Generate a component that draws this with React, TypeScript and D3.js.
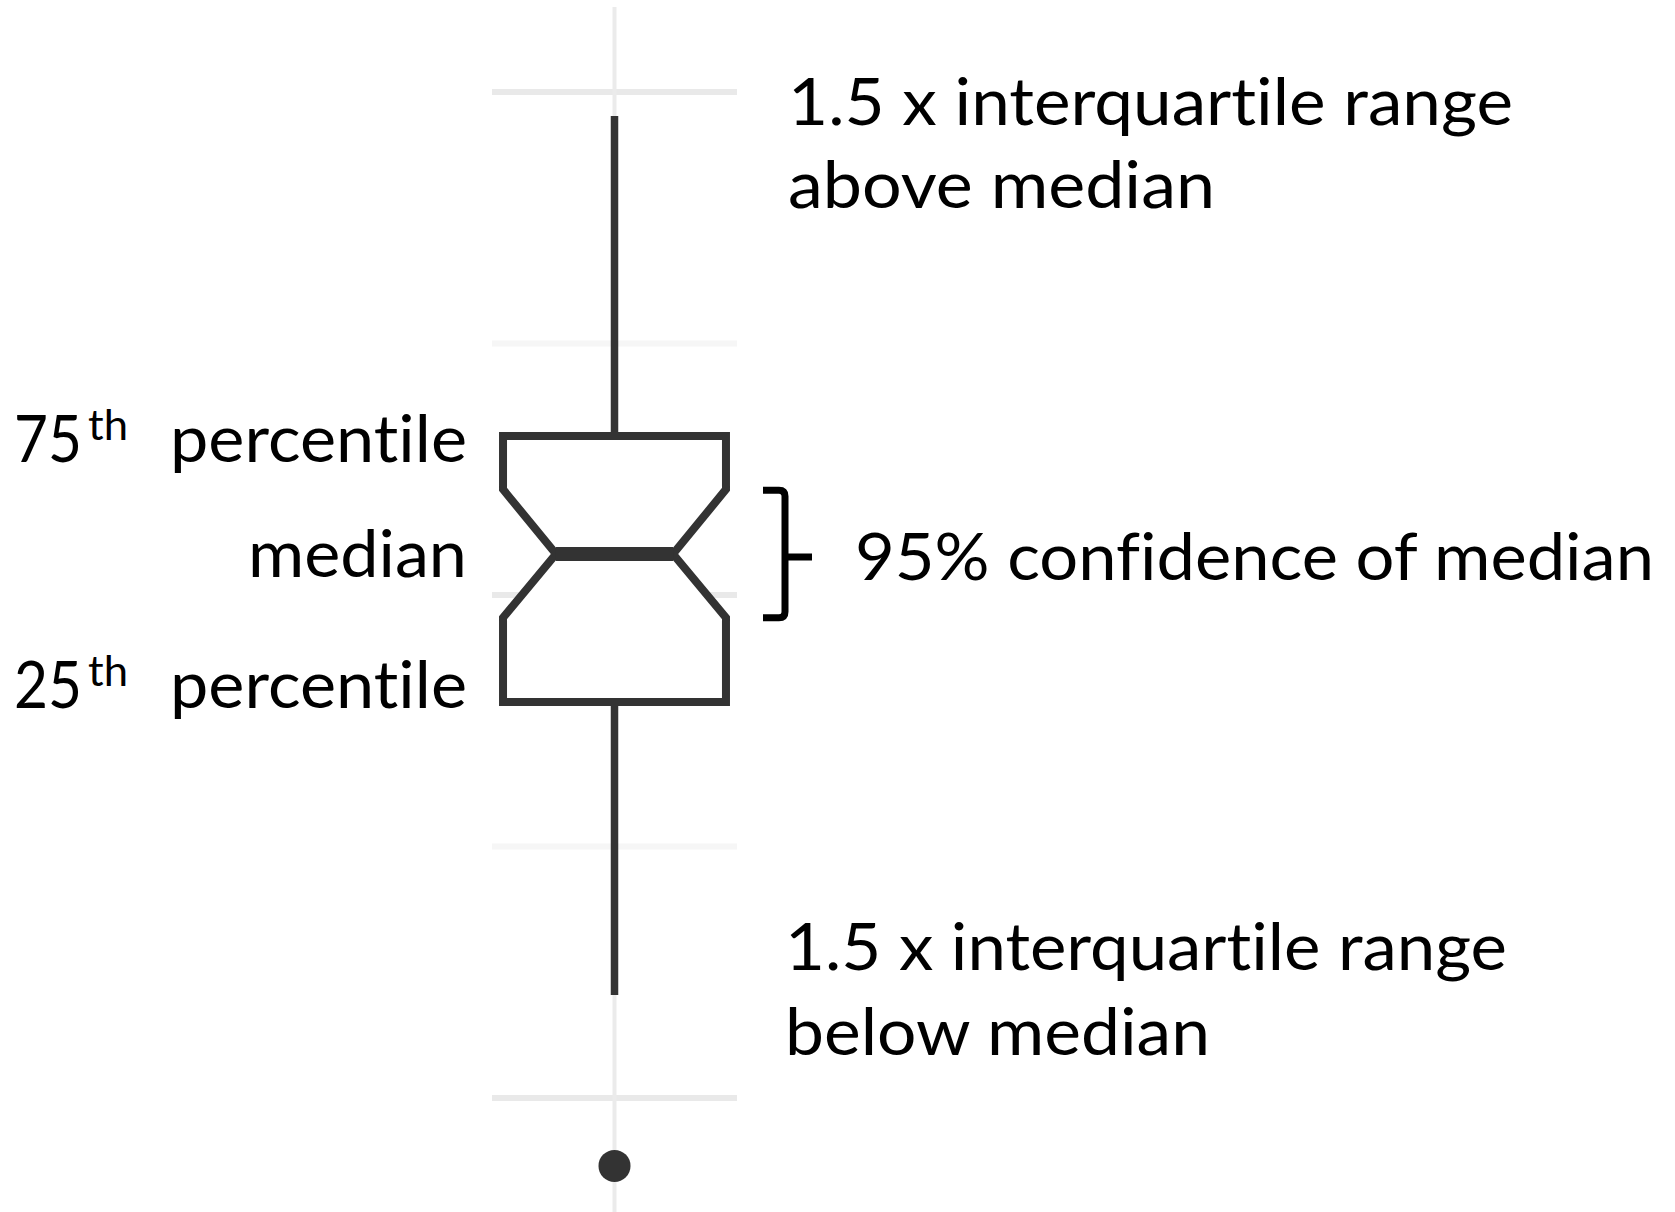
import React, { useEffect, useRef } from "react";
import * as d3 from "d3";

// one sample, drawn as a notched box
const categories = ["sample"];
const gridValues = [0, 10, 20, 30, 40];
const majorGrid = [0, 20, 40];
const statKeys = ["lowerWhisker", "q1", "notchLow", "median", "notchHigh", "q3", "upperWhisker"];
const statValues = [4.1, 15.75, 19.1, 21.63, 24.2, 26.32, 39.05];
const outlierValues = [-2.7];

const upperNote = ["1.5 x interquartile range", "above median"];
const lowerNote = ["1.5 x interquartile range", "below median"];
const ciNote = "95% confidence of median";

const width = 1675;
const height = 1212;

const App = () => {
  const ref = useRef<SVGSVGElement>(null);

  function drawBox() {
    const svg = d3.select(ref.current);
    svg.selectAll("*").remove();

    const y = d3.scaleLinear().domain([0, 40]).range([1098, 92]);
    const x = d3.scaleBand().domain(categories).range([492, 737]);
    const cx = (x(categories[0]) as number) + x.bandwidth() / 2;
    const s: any = {};
    statKeys.forEach((k, i) => (s[k] = statValues[i]));
    const half = x.bandwidth() * 0.455;
    const notchHalf = half * 0.525;

    // grid
    svg
      .append("g")
      .selectAll("line")
      .data(gridValues)
      .join("line")
      .attr("x1", x.range()[0])
      .attr("x2", x.range()[1])
      .attr("y1", (d) => y(d))
      .attr("y2", (d) => y(d))
      .attr("stroke", (d) => (majorGrid.includes(d) ? "#e9e9e9" : "#f6f6f6"))
      .attr("stroke-width", 6);

    svg
      .append("line")
      .attr("x1", cx)
      .attr("x2", cx)
      .attr("y1", 7)
      .attr("y2", height)
      .attr("stroke", "#ebebeb")
      .attr("stroke-width", 4);

    const g = svg.append("g").attr("stroke", "#333333");

    // whiskers
    g.append("line")
      .attr("x1", cx)
      .attr("x2", cx)
      .attr("y1", y(s.q3))
      .attr("y2", y(s.upperWhisker))
      .attr("stroke-width", 7.5);
    g.append("line")
      .attr("x1", cx)
      .attr("x2", cx)
      .attr("y1", y(s.q1))
      .attr("y2", y(s.lowerWhisker))
      .attr("stroke-width", 7.5);

    const l = cx - half;
    const r = cx + half;
    const pts: [number, number][] = [
      [l, y(s.q3)],
      [r, y(s.q3)],
      [r, y(s.notchHigh)],
      [cx + notchHalf, y(s.median)],
      [r, y(s.notchLow)],
      [r, y(s.q1)],
      [l, y(s.q1)],
      [l, y(s.notchLow)],
      [cx - notchHalf, y(s.median)],
      [l, y(s.notchHigh)],
    ];
    g.append("path")
      .attr("d", d3.line()(pts) + "Z")
      .attr("fill", "#fff")
      .attr("stroke-width", 8)
      .attr("stroke-linejoin", "miter");

    g.append("line")
      .attr("x1", cx - notchHalf)
      .attr("x2", cx + notchHalf)
      .attr("y1", y(s.median))
      .attr("y2", y(s.median))
      .attr("stroke-width", 14);

    svg
      .append("g")
      .selectAll("circle")
      .data(outlierValues)
      .join("circle")
      .attr("cx", cx)
      .attr("cy", (d) => y(d))
      .attr("r", 16)
      .attr("fill", "#333333");

    // bracket for the notch
    const top = y(s.notchHigh) + 1;
    const bot = y(s.notchLow);
    const mid = y(s.median) + 3;
    const p = d3.path();
    p.moveTo(763, top);
    p.lineTo(779, top);
    p.quadraticCurveTo(785, top, 785, top + 6);
    p.lineTo(785, bot - 6);
    p.quadraticCurveTo(785, bot, 779, bot);
    p.lineTo(763, bot);
    p.moveTo(785, mid);
    p.lineTo(812, mid);
    svg
      .append("path")
      .attr("d", p.toString())
      .attr("fill", "none")
      .attr("stroke", "#000")
      .attr("stroke-width", 7)
      .attr("stroke-linecap", "butt");

    // labels
    const t = svg
      .append("g")
      .attr("font-family", "Lato, 'Open Sans', sans-serif")
      .attr("font-size", 66)
      .attr("fill", "#000")
      .style("font-variant-ligatures", "none")
      .style("font-feature-settings", "'liga' 0");

    const addText = (str: string, tx: number, ty: number, len: number, anchor = "start") =>
      t.append("text")
        .attr("x", tx)
        .attr("y", ty)
        .attr("text-anchor", anchor)
        .attr("textLength", len)
        .attr("lengthAdjust", "spacingAndGlyphs")
        .text(str);

    addText(upperNote[0], 788, 125, 725);
    addText(upperNote[1], 788, 208, 427);
    addText(lowerNote[0], 785, 970, 722);
    addText(lowerNote[1], 785, 1055, 425);
    addText(ciNote, 855, 580, 799);

    const leftLabel = (num: string, ty: number) => {
      addText(num, 14, ty, 68);
      t.append("text")
        .attr("x", 88)
        .attr("y", ty - 22)
        .attr("font-size", 42)
        .attr("textLength", 40)
        .attr("lengthAdjust", "spacingAndGlyphs")
        .text("th");
      addText("percentile", 467, ty, 297, "end");
    };
    leftLabel("75", 462);
    addText("median", 467, 577, 219, "end");
    leftLabel("25", 708);
  }

  useEffect(() => {
    drawBox();
  }, []);

  return (
    <svg
      ref={ref}
      width={width}
      height={height}
      style={{ position: "absolute", left: 0, top: 0, background: "#fff" }}
    ></svg>
  );
};

export default App;
